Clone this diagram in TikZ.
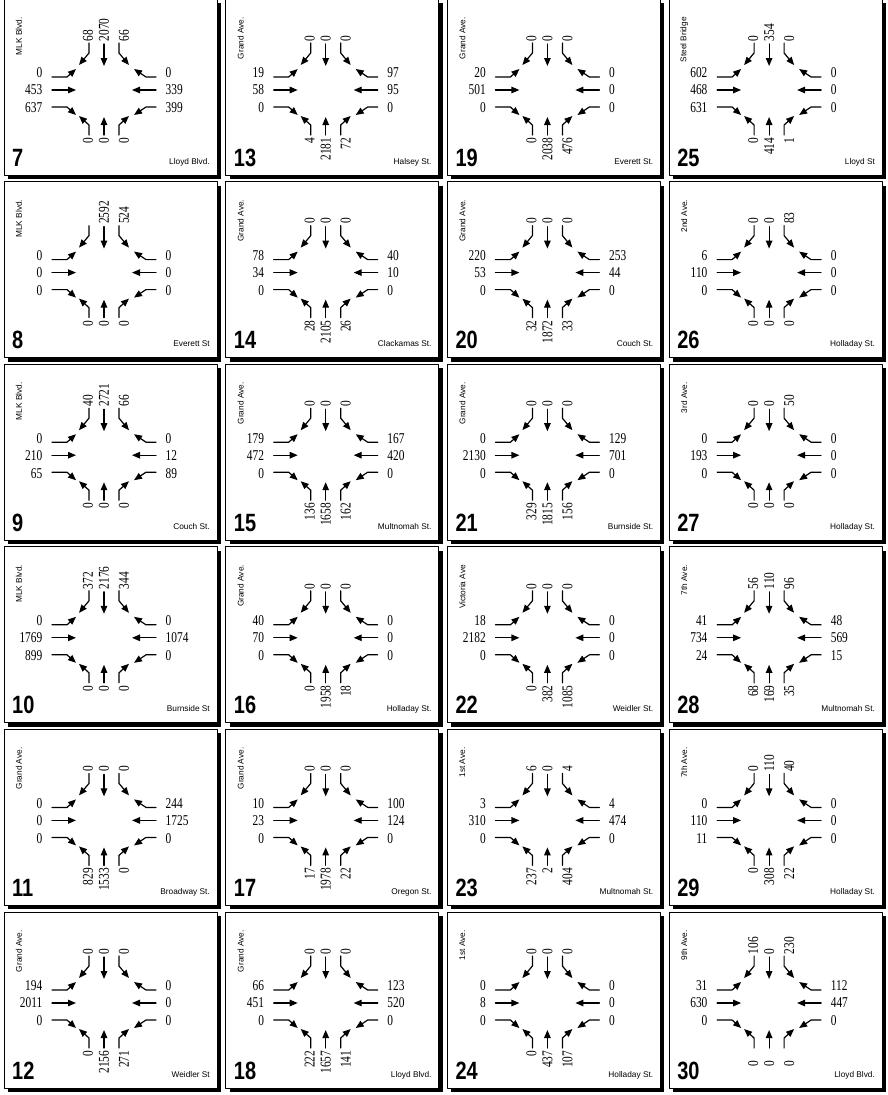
\documentclass[tikz,border=0pt]{standalone}
\usepackage{fontspec}
\usepackage{graphicx}
\setmainfont{Liberation Serif}
\newfontfamily\streetfont{Liberation Sans}
\usetikzlibrary{arrows.meta}

\newcommand\slimnum[1]{\scalebox{0.76}[1]{#1}}

\tikzset{
  panelshade/.style={fill=black},
  panelbox/.style={draw=black,line width=0.8pt,fill=white},
  mvt/.style={line width=1.2pt,-{Triangle[length=8pt,width=6.5pt]}},
  cnt/.style={inner sep=0.5pt,font=\fontsize{15}{15}\selectfont},
  vcnt/.style={cnt,rotate=90},
  panelno/.style={inner sep=0pt,font=\streetfont\bfseries\fontsize{25}{25}\selectfont},
  street/.style={inner sep=0pt,font=\streetfont\fontsize{8.3}{8.3}\selectfont},
}

\begin{document}
\begin{tikzpicture}[x=1pt,y=-1pt,line cap=round,line join=round]
  \useasboundingbox (0,0) rectangle (888,1095);
  % col/row/no/N-S street/E-W street/north/west/east/south/extra drop of south counts
  \foreach \col/\row/\num/\nsname/\ewname/\nlist/\wlist/\elist/\slist/\sdrop in {
    0/0/7/{MLK Blvd.}/{Lloyd Blvd.}/{68,2070,66}/{0,453,637}/{0,339,399}/{0,0,0}/0,
    0/1/8/{MLK Blvd.}/{Everett St}/{{},2592,524}/{0,0,0}/{0,0,0}/{0,0,0}/0,
    0/2/9/{MLK Blvd.}/{Couch St.}/{40,2721,66}/{0,210,65}/{0,12,89}/{0,0,0}/0,
    0/3/10/{MLK Blvd.}/{Burnside St}/{372,2176,344}/{0,1769,899}/{0,1074,0}/{0,0,0}/0,
    0/4/11/{Grand Ave.}/{Broadway St.}/{0,0,0}/{0,0,0}/{244,1725,0}/{829,1533,0}/0,
    0/5/12/{Grand Ave.}/{Weidler St}/{0,0,0}/{194,2011,0}/{0,0,0}/{0,2156,271}/0,
    1/0/13/{Grand Ave.}/{Halsey St.}/{0,0,0}/{19,58,0}/{97,95,0}/{4,2181,72}/0,
    1/1/14/{Grand Ave.}/{Clackamas St.}/{0,0,0}/{78,34,0}/{40,10,0}/{28,2105,26}/0,
    1/2/15/{Grand Ave.}/{Multnomah St.}/{0,0,0}/{179,472,0}/{167,420,0}/{136,1658,162}/0,
    1/3/16/{Grand Ave.}/{Holladay St.}/{0,0,0}/{40,70,0}/{0,0,0}/{0,1958,18}/0,
    1/4/17/{Grand Ave.}/{Oregon St.}/{0,0,0}/{10,23,0}/{100,124,0}/{17,1978,22}/0,
    1/5/18/{Grand Ave.}/{Lloyd Blvd.}/{0,0,0}/{66,451,0}/{123,520,0}/{222,1657,141}/0,
    2/0/19/{Grand Ave.}/{Everett St.}/{0,0,0}/{20,501,0}/{0,0,0}/{0,2038,476}/0,
    2/1/20/{Grand Ave.}/{Couch St.}/{0,0,0}/{220,53,0}/{253,44,0}/{32,1872,33}/0,
    2/2/21/{Grand Ave.}/{Burnside St.}/{0,0,0}/{0,2130,0}/{129,701,0}/{329,1815,156}/0,
    2/3/22/{Victoria Ave}/{Weidler St.}/{0,0,0}/{18,2182,0}/{0,0,0}/{0,382,1085}/0,
    2/4/23/{1st Ave.}/{Multnomah St.}/{6,0,4}/{3,310,0}/{4,474,0}/{237,2,404}/0,
    2/5/24/{1st Ave.}/{Holladay St.}/{0,0,0}/{0,8,0}/{0,0,0}/{0,437,107}/0,
    3/0/25/{Steel Bridge}/{Lloyd St}/{0,354,0}/{602,468,631}/{0,0,0}/{0,414,1}/0,
    3/1/26/{2nd Ave.}/{Holladay St.}/{0,0,83}/{6,110,0}/{0,0,0}/{0,0,0}/0,
    3/2/27/{3rd Ave.}/{Holladay St.}/{0,0,50}/{0,193,0}/{0,0,0}/{0,0,0}/0,
    3/3/28/{7th Ave.}/{Multnomah St.}/{56,110,96}/{41,734,24}/{48,569,15}/{68,169,35}/0,
    3/4/29/{7th Ave.}/{Holladay St.}/{0,110,40}/{0,110,11}/{0,0,0}/{0,308,22}/0,
    3/5/30/{9th Ave.}/{Lloyd Blvd.}/{106,0,230}/{31,630,0}/{112,447,0}/{0,0,0}/10}{
    \begin{scope}[shift={({4+\col*221.7},{-1+\row*182.6})}]
      \fill[panelshade] (4,4) rectangle (217,180);
      \draw[panelbox] (0,0) rectangle (213,176);
      \node[street,rotate=90,anchor=east] (p\num-ns) at (15,18) {\nsname};
      \node[street,anchor=base east] (p\num-ew) at (206,165) {\ewname};
      \node[panelno,anchor=base west] (p\num-no) at (8,167) {\scalebox{0.8}[1]{\num}};
      \begin{scope}[shift={(100,91)}]
        % west approach
        \draw[mvt] (-52,-13) -- (-37,-13) -- (-28,-21);
        \draw[mvt] (-52,0) -- (-28,0);
        \draw[mvt] (-52,17) -- (-37,17) -- (-28,25);
        % east approach
        \draw[mvt] (52,-13) -- (42,-13) -- (30,-21);
        \draw[mvt] (52,0) -- (28,0);
        \draw[mvt] (52,17) -- (42,17) -- (30,25);
        % north approach
        \draw[mvt] (-15,-47) -- (-15,-37) -- (-25,-25);
        \draw[mvt] (0,-46) -- (0,-24);
        \draw[mvt] (15,-47) -- (15,-37) -- (25,-25);
        % south approach
        \draw[mvt] (-15,45) -- (-15,35) -- (-25,26);
        \draw[mvt] (0,45) -- (0,27);
        \draw[mvt] (15,45) -- (15,35) -- (25,26);
        % counts
        \foreach \t [count=\k] in \nlist {
          \pgfmathsetmacro\dx{{-16,0,20}[\k-1]}
          \node[vcnt,anchor=west] (p\num-n\k) at (\dx,-48) {\slimnum{\t}};
        }
        \foreach \t [count=\k] in \slist {
          \pgfmathsetmacro\dx{{-16,0,20}[\k-1]}
          \node[vcnt,anchor=east] (p\num-s\k) at (\dx,47+\sdrop) {\slimnum{\t}};
        }
        \foreach \t [count=\k] in \wlist {
          \pgfmathsetmacro\dy{{-17,0,18}[\k-1]}
          \node[cnt,anchor=east] (p\num-w\k) at (-61,\dy) {\slimnum{\t}};
        }
        \foreach \t [count=\k] in \elist {
          \pgfmathsetmacro\dy{{-17,0,18}[\k-1]}
          \node[cnt,anchor=west] (p\num-e\k) at (61,\dy) {\slimnum{\t}};
        }
      \end{scope}
    \end{scope}
  }
\end{tikzpicture}
\end{document}
